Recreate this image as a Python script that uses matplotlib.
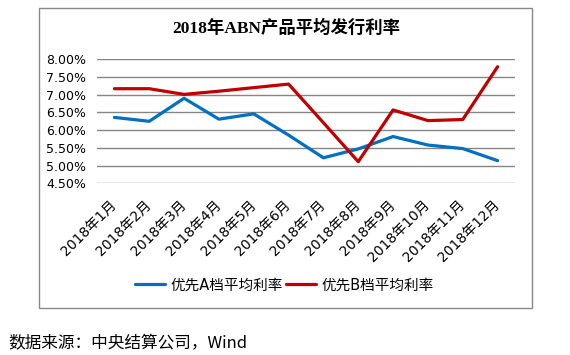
import matplotlib
matplotlib.use("Agg")
import matplotlib.pyplot as plt
from matplotlib.patches import Rectangle
from matplotlib.ticker import FuncFormatter

plt.rcParams['font.family'] = ['DejaVu Sans', 'Noto Sans CJK SC']

# colors
c_a = "#0070C0"  # 优先A
c_b = "#C00000"  # 优先B
c_grid = "#868686"

months = ["2018年%d月" % m for m in range(1, 13)]
rate_a = [6.36, 6.25, 6.90, 6.31, 6.46, 5.86, 5.22, 5.47, 5.82, 5.58, 5.48, 5.14]
rate_b = [7.17, 7.17, 7.01, 7.10, 7.20, 7.30, 6.21, 5.11, 6.57, 6.27, 6.30, 7.79]
yticks = [4.5, 5.0, 5.5, 6.0, 6.5, 7.0, 7.5, 8.0]

W, H = 570, 355
fig = plt.figure(figsize=(W / 100, H / 100), dpi=100)
fig.patch.set_facecolor("white")

# chart border
fig.patches.append(Rectangle((39.5 / W, 1 - 307.5 / H), 492 / W, 300 / H,
                             transform=fig.transFigure, fill=False,
                             edgecolor="#888888", linewidth=1.0))

ax = fig.add_axes([97 / W, 1 - 183.3 / H, 418 / W, 124 / H])
x = list(range(len(months)))
ax.plot(x, rate_a, color=c_a, linewidth=2.3, label="优先A档平均利率", solid_capstyle="round")
ax.plot(x, rate_b, color=c_b, linewidth=2.3, label="优先B档平均利率", solid_capstyle="round")

ax.set_xlim(-0.5, len(months) - 0.5)
ax.set_ylim(4.5, 8.0)
ax.set_yticks(yticks)
ax.yaxis.set_major_formatter(FuncFormatter(lambda v, p: "%.2f%%" % v))
ax.set_xticks(x)
ax.set_xticklabels(months, rotation=45, ha="right", va="center",
                   rotation_mode="anchor", fontsize=10)
ax.tick_params(axis="x", length=0, pad=14)
ax.tick_params(axis="y", length=0, pad=8, labelsize=9)
ax.grid(axis="y", color=c_grid, linewidth=1.0)
ax.set_axisbelow(True)
for s in ax.spines.values():
    s.set_visible(False)

fig.text(286 / W, 1 - 28 / H, "2018年ABN产品平均发行利率", ha="center", va="center",
         fontsize=12.5, fontweight="bold", family=["Liberation Serif", "Noto Sans CJK SC"])

fig.legend(loc="center", bbox_to_anchor=(284 / W, 1 - 285 / H), ncol=2, frameon=False,
           fontsize=10.5, handlelength=2.1, handletextpad=0.35, columnspacing=0.2)

fig.text(8 / W, 1 - 344 / H, "数据来源：中央结算公司，Wind", ha="left", va="center",
         fontsize=12, family=["Noto Sans CJK SC", "DejaVu Sans"])

fig.savefig("out.png", dpi=100)
